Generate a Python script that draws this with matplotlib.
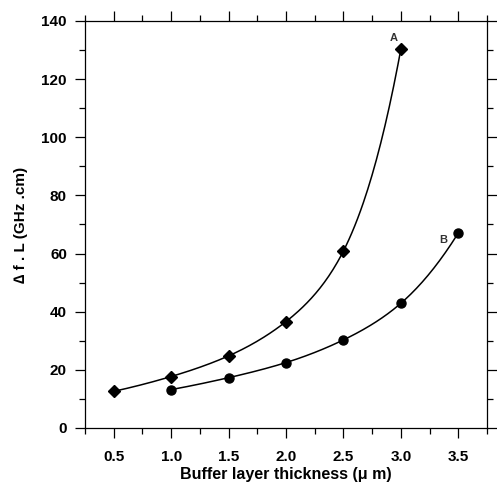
import numpy as np
import matplotlib
matplotlib.use("Agg")
import matplotlib.pyplot as plt
from matplotlib.ticker import MultipleLocator, FormatStrFormatter

plt.rcParams['font.family'] = ['Liberation Sans', 'DejaVu Sans']
plt.rcParams['font.weight'] = 'bold'

# curve A (diamonds)
thick_a = [0.5, 1.0, 1.5, 2.0, 2.5, 3.0]
df_a = [12.6, 17.7, 24.8, 36.6, 60.9, 130.4]
# curve B (circles)
thick_b = [1.0, 1.5, 2.0, 2.5, 3.0, 3.5]
df_b = [13.2, 17.3, 22.5, 30.3, 42.9, 67.1]


def natural_spline(x, y, n=200):
  x = np.asarray(x, float)
  y = np.asarray(y, float)
  k = len(x)
  h = np.diff(x)
  A = np.zeros((k, k))
  r = np.zeros(k)
  A[0, 0] = A[-1, -1] = 1
  for i in range(1, k - 1):
    A[i, i - 1] = h[i - 1]
    A[i, i] = 2 * (h[i - 1] + h[i])
    A[i, i + 1] = h[i]
    r[i] = 3 * ((y[i + 1] - y[i]) / h[i] - (y[i] - y[i - 1]) / h[i - 1])
  c = np.linalg.solve(A, r)
  xs = np.linspace(x[0], x[-1], n)
  ys = np.empty_like(xs)
  for j, xv in enumerate(xs):
    i = min(np.searchsorted(x, xv, side='right') - 1, k - 2)
    b = (y[i + 1] - y[i]) / h[i] - h[i] * (2 * c[i] + c[i + 1]) / 3
    d = (c[i + 1] - c[i]) / (3 * h[i])
    t = xv - x[i]
    ys[j] = y[i] + b * t + c[i] * t ** 2 + d * t ** 3
  return xs, ys


fig = plt.figure(figsize=(4.97, 4.88), dpi=100)
ax = fig.add_axes([0.171, 0.123, 0.809, 0.834])

# smooth the curves in log space so they stay monotone
xs, ys = natural_spline(thick_a, np.log(df_a))
ax.plot(xs, np.exp(ys), color='black', linewidth=1.1)
ax.plot(thick_a, df_a, 'D', color='black', markersize=6)

xs, ys = natural_spline(thick_b, np.log(df_b))
ax.plot(xs, np.exp(ys), color='black', linewidth=1.1)
ax.plot(thick_b, df_b, 'o', color='black', markersize=6.5)

ax.text(2.935, 134, 'A', fontsize=8, ha='center', va='center', color='#333333')
ax.text(3.37, 64.5, 'B', fontsize=8, ha='center', va='center', color='#333333')

ax.set_xlim(0.25, 3.75)
ax.set_ylim(0, 140)
ax.xaxis.set_major_locator(MultipleLocator(0.5))
ax.xaxis.set_minor_locator(MultipleLocator(0.25))
ax.xaxis.set_major_formatter(FormatStrFormatter('%.1f'))
ax.yaxis.set_major_locator(MultipleLocator(20))
ax.yaxis.set_minor_locator(MultipleLocator(10))
ax.tick_params(which='both', direction='out', top=True, right=True, width=0.9, labelsize=11)
ax.tick_params(which='major', length=7, pad=6)
ax.tick_params(axis='x', which='major', pad=9)
ax.tick_params(which='minor', length=4)
for s in ax.spines.values():
  s.set_linewidth(0.9)

ax.set_xlabel('Buffer layer thickness (\u03bc m)', fontsize=11.5, fontweight='bold', labelpad=2)
ax.set_ylabel('\u2206 f . L (GHz .cm)', fontsize=11, fontweight='bold', labelpad=10)

fig.savefig('out.png', dpi=100)
